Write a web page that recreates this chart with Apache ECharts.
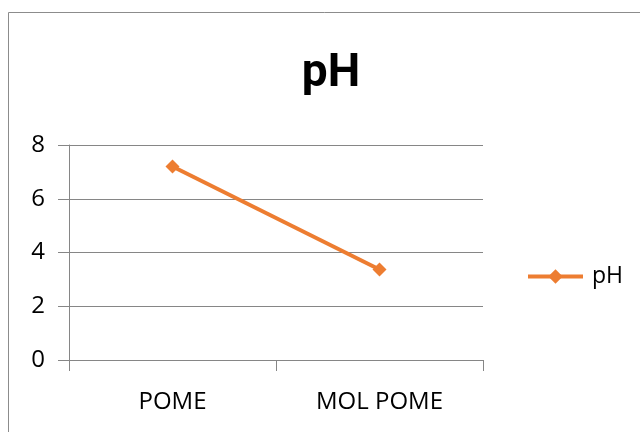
<!DOCTYPE html>
<html><head><meta charset="utf-8">
<script src="https://cdn.jsdelivr.net/npm/echarts@6/dist/echarts.min.js"></script>
<style>html,body{margin:0;padding:0;background:#fff}#c{width:640px;height:432px}</style>
</head><body><div id="c"></div>
<script>
const categories = ['POME', 'MOL POME'];
const phValues = [7.2, 3.37];
const yTicks = [0, 2, 4, 6, 8];
const seriesName = 'pH';
const titleText = 'pH';

const chart = echarts.init(document.getElementById('c'), null, {renderer: 'canvas'});
const font = '"Open Sans", sans-serif';
chart.setOption({
  animation: false,
  backgroundColor: '#fff',
  graphic: [{type: 'rect', shape: {x: 8.5, y: 12.5, width: 700, height: 500}, style: {fill: 'none', stroke: '#8c8c8c', lineWidth: 1}, silent: true, z: -1}],
  title: {text: titleText, left: 326, top: 46, textAlign: 'center',
    textStyle: {fontFamily: 'Roboto, sans-serif', fontWeight: 'bold', fontSize: 46, color: '#000'}},
  legend: {data: [seriesName], left: 521, top: 260, itemWidth: 55, itemHeight: 18, itemGap: 6,
    lineStyle: {width: 4},
    textStyle: {fontFamily: font, fontSize: 23, color: '#000', padding: [0, 0, 0, 4]}},
  grid: {left: 69, right: 157, top: 145, bottom: 72},
  xAxis: {type: 'category', data: categories, boundaryGap: true,
    axisLine: {lineStyle: {color: '#868686', width: 1}},
    axisTick: {show: true, length: 11, lineStyle: {color: '#868686'}},
    axisLabel: {fontFamily: font, fontSize: 24, color: '#000', margin: 30}},
  yAxis: {type: 'value', min: yTicks[0], max: yTicks[yTicks.length-1], interval: 2,
    axisLine: {show: true, lineStyle: {color: '#868686', width: 1}},
    axisTick: {show: true, length: 11, lineStyle: {color: '#868686'}},
    splitLine: {lineStyle: {color: '#868686', width: 1}},
    axisLabel: {fontFamily: font, fontSize: 24, color: '#000', margin: 24}},
  series: [{name: seriesName, type: 'line', data: phValues, symbol: 'diamond', symbolSize: 14,
    lineStyle: {color: '#ED7D31', width: 4}, itemStyle: {color: '#ED7D31'}}]
});
</script></body></html>
